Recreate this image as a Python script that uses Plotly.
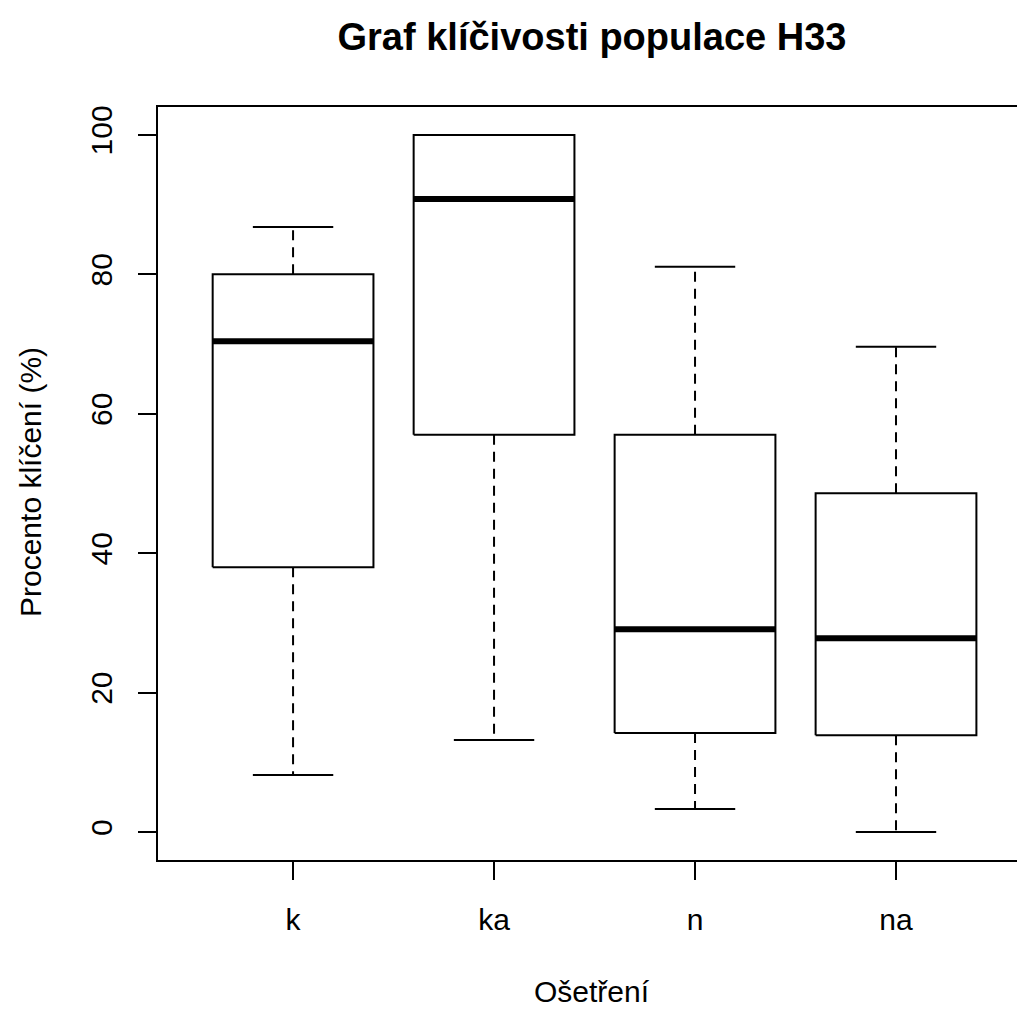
import plotly.graph_objects as go

categories = ["k", "ka", "n", "na"]
lower_whisker = [8.2, 13.2, 3.3, 0.0]
q1_values = [38.0, 57.0, 14.2, 13.9]
medians = [70.4, 90.8, 29.1, 27.8]
q3_values = [80.0, 100.0, 57.0, 48.6]
upper_whisker = [86.8, 100.0, 81.1, 69.6]
y_ticks = [0, 20, 40, 60, 80, 100]

title_text = "Graf klíčivosti populace H33"
x_title = "Ošetření"
y_title = "Procento klíčení (%)"

BOX_HALF = 0.4
CAP_HALF = 0.2
FONT = "Liberation Sans, Arial, sans-serif"

fig = go.Figure()

for i, cat in enumerate(categories):
    xc = i + 1
    # whiskers (dashed)
    fig.add_trace(go.Scatter(
        x=[xc, xc, None, xc, xc],
        y=[q3_values[i], upper_whisker[i], None, q1_values[i], lower_whisker[i]],
        mode="lines", line=dict(color="black", width=2, dash="10px,7px"),
        showlegend=False, hoverinfo="skip"))
    # caps
    fig.add_trace(go.Scatter(
        x=[xc - CAP_HALF, xc + CAP_HALF, None, xc - CAP_HALF, xc + CAP_HALF],
        y=[upper_whisker[i], upper_whisker[i], None, lower_whisker[i], lower_whisker[i]],
        mode="lines", line=dict(color="black", width=2),
        showlegend=False, hoverinfo="skip"))
    # box
    fig.add_trace(go.Scatter(
        x=[xc - BOX_HALF, xc + BOX_HALF, xc + BOX_HALF, xc - BOX_HALF, xc - BOX_HALF],
        y=[q1_values[i], q1_values[i], q3_values[i], q3_values[i], q1_values[i]],
        mode="lines", line=dict(color="black", width=2),
        fill="toself", fillcolor="white",
        showlegend=False, hoverinfo="skip"))
    # median
    fig.add_trace(go.Scatter(
        x=[xc - BOX_HALF, xc + BOX_HALF],
        y=[medians[i], medians[i]],
        mode="lines", line=dict(color="black", width=6),
        showlegend=False, hoverinfo="skip"))

fig.update_layout(
    width=1017, height=1010,
    margin=dict(l=158, r=0, t=107, b=150),
    paper_bgcolor="white", plot_bgcolor="white",
    font=dict(family=FONT, size=30, color="black"),
    title=dict(text=f"<b>{title_text}</b>", x=592 / 1017, xanchor="center",
               y=1 - 37 / 1010, yanchor="middle",
               font=dict(family=FONT, size=38, color="black")),
    xaxis=dict(range=[0.328, 4.602], tickmode="array",
               tickvals=list(range(1, len(categories) + 1)), ticktext=categories,
               showgrid=False, zeroline=False, showline=True, mirror=True,
               linecolor="black", linewidth=2, ticks="outside", ticklen=18,
               tickwidth=2, tickcolor="black", ticklabelstandoff=14,
               tickfont=dict(size=30, family=FONT)),
    yaxis=dict(range=[-4, 104], tickmode="array", tickvals=y_ticks,
               ticktext=[str(v) for v in y_ticks],
               showgrid=False, zeroline=False, showline=True, mirror=False,
               linecolor="black", linewidth=2, ticks="outside", ticklen=18,
               tickwidth=2, tickcolor="black", tickangle=-90,
               ticklabelstandoff=14, tickfont=dict(size=30, family=FONT)),
    annotations=[
        dict(text=x_title, xref="paper", yref="paper",
             x=(592 - 158) / 859, y=-(991 - 860) / 753,
             xanchor="center", yanchor="middle", showarrow=False,
             font=dict(size=30, family=FONT, color="black")),
        dict(text=y_title, xref="paper", yref="paper",
             x=-(158 - 30) / 859, y=(860 - 482) / 753,
             xanchor="center", yanchor="middle", textangle=-90, showarrow=False,
             font=dict(size=30, family=FONT, color="black")),
    ],
)

fig.write_html("out.html")
